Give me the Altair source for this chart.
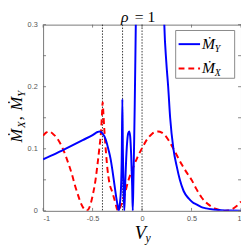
import altair as alt
import pandas as pd

# --- data ---
mx_x = [-1.0, -0.97, -0.94, -0.9, -0.85, -0.8, -0.75, -0.7, -0.68, -0.65, -0.62, -0.59, -0.564,
        -0.54, -0.52, -0.5, -0.47, -0.45, -0.43, -0.415, -0.405, -0.398, -0.39, -0.38, -0.365,
        -0.35, -0.33, -0.3, -0.27, -0.255, -0.244, -0.22, -0.2, -0.17, -0.14, -0.1, -0.05, 0.0,
        0.05, 0.1, 0.16, 0.2, 0.25, 0.3, 0.35, 0.4, 0.45, 0.5, 0.55, 0.6, 0.65, 0.7, 0.75, 0.8,
        0.83, 0.87, 0.9, 0.95, 1.0]
mx_y = [0.121, 0.126, 0.128, 0.124, 0.115, 0.1, 0.079, 0.054, 0.042, 0.027, 0.013, 0.004, 0.0,
        0.003, 0.011, 0.024, 0.05, 0.075, 0.103, 0.127, 0.155, 0.175, 0.155, 0.128, 0.095,
        0.068, 0.045, 0.03, 0.013, 0.004, 0.0, 0.006, 0.015, 0.03, 0.048, 0.066, 0.085, 0.101,
        0.115, 0.124, 0.128, 0.126, 0.118, 0.105, 0.09, 0.075, 0.062, 0.05, 0.035, 0.022, 0.013,
        0.007, 0.003, 0.001, 0.0, 0.0005, 0.002, 0.007, 0.015]

my_x1 = [-1.0, -0.9, -0.8, -0.7, -0.6, -0.5, -0.45, -0.43, -0.4, -0.367, -0.34, -0.317, -0.3,
         -0.278, -0.26, -0.245, -0.236, -0.225, -0.212, -0.205, -0.199, -0.194, -0.188, -0.179,
         -0.17, -0.16, -0.15, -0.14, -0.13, -0.12, -0.11, -0.1, -0.094, -0.087, -0.08, -0.074,
         -0.068, -0.06]
my_y1 = [0.083, 0.09, 0.098, 0.106, 0.114, 0.122, 0.127, 0.128, 0.125, 0.115, 0.099, 0.083, 0.066,
         0.041, 0.021, 0.007, 0.0, 0.01, 0.04, 0.09, 0.18, 0.1, 0.04, 0.0,
         0.045, 0.085, 0.112, 0.125, 0.128, 0.12, 0.09, 0.04, 0.0, 0.05, 0.11, 0.17,
         0.24, 0.34]
my_x2 = [0.22, 0.225, 0.245, 0.264, 0.284, 0.317, 0.35, 0.382, 0.42, 0.471, 0.51, 0.554, 0.6,
         0.65, 0.7, 0.8, 0.9, 1.0]
my_y2 = [0.33, 0.3, 0.24, 0.2, 0.15, 0.1, 0.072, 0.05, 0.032, 0.02, 0.014, 0.01, 0.006,
         0.004, 0.0025, 0.0012, 0.0006, 0.0003]

vlines = [-0.4, -0.197, 0.0]
x_ticks = [-1, -0.5, 0, 0.5, 1]
y_ticks = [0, 0.05, 0.1, 0.15, 0.2, 0.25, 0.3]

W, H = 203, 191
SERIF = "Liberation Serif, DejaVu Serif, serif"
GRAY = "#555555"

xs = alt.Scale(domain=[-1, 1], nice=False, zero=False)
ys = alt.Scale(domain=[0, 0.3], nice=False, zero=False)

lab = dict(labelFontSize=7.5, labelColor=GRAY, labelFont="Liberation Sans, Arial, sans-serif",
           ticks=False, domain=False, grid=False, title=None, labelExpr="'' + datum.value")

red_df = pd.DataFrame({"x": mx_x, "y": mx_y})
blue_df = pd.concat([
    pd.DataFrame({"x": my_x1, "y": my_y1, "seg": 1}),
    pd.DataFrame({"x": my_x2, "y": my_y2, "seg": 2}),
])

base_x = alt.X("x:Q", scale=xs, axis=alt.Axis(values=x_ticks, labelPadding=4, **lab))
base_y = alt.Y("y:Q", scale=ys, axis=alt.Axis(values=y_ticks, labelPadding=6, **lab))

vl = alt.Chart(pd.DataFrame({"x": vlines})).mark_rule(
    color="#333333", strokeWidth=1, strokeDash=[1.5, 1.5]
).encode(x=alt.X("x:Q", scale=xs))

red = alt.Chart(red_df).mark_line(
    color="#ff0000", strokeWidth=2, strokeDash=[6, 4], interpolate="monotone", clip=True
).encode(x=base_x, y=base_y)

blue = alt.Chart(blue_df).mark_line(
    color="#0000ff", strokeWidth=2, interpolate="monotone", clip=True
).encode(x=alt.X("x:Q", scale=xs), y=alt.Y("y:Q", scale=ys), detail="seg:N")

tick_col = "#666666"
ytdf = pd.DataFrame({"y": y_ticks})
xtdf = pd.DataFrame({"x": x_ticks})
tl = alt.Chart(ytdf).mark_rule(color=tick_col, strokeWidth=0.8).encode(
    y=alt.Y("y:Q", scale=ys), x=alt.value(0), x2=alt.value(3))
tr = alt.Chart(ytdf).mark_rule(color=tick_col, strokeWidth=0.8).encode(
    y=alt.Y("y:Q", scale=ys), x=alt.value(W - 3), x2=alt.value(W))
tb = alt.Chart(xtdf).mark_rule(color=tick_col, strokeWidth=0.8).encode(
    x=alt.X("x:Q", scale=xs), y=alt.value(H - 3), y2=alt.value(H))
tt = alt.Chart(xtdf).mark_rule(color=tick_col, strokeWidth=0.8).encode(
    x=alt.X("x:Q", scale=xs), y=alt.value(0), y2=alt.value(3))


def txt(t, x, y, size, italic=True, angle=0, align="left", color="black"):
    kw = dict(text=t, fontSize=size, font=SERIF, align=align, baseline="alphabetic",
              color=color, angle=angle)
    if italic:
        kw["fontStyle"] = "italic"
    return alt.Chart(pd.DataFrame({"a": [0]})).mark_text(**kw).encode(
        x=alt.value(x), y=alt.value(y))


texts = [
    # title
    txt("\u03c1", 80, -3, 16),
    txt("= 1", 94, -3, 16, italic=False),
    # x title
    txt("V", 94, 220, 19),
    txt("y", 105, 223, 12),
    # y title (rotated)
    txt("\u1e40", -22, 121, 17, angle=270),
    txt("X", -19, 106, 11, angle=270),
    txt(",", -22, 98, 17, italic=False, angle=270),
    txt("\u1e40", -22, 88, 17, angle=270),
    txt("Y", -19, 74, 11, angle=270),
]

# legend
leg_box = alt.Chart(pd.DataFrame({"a": [0]})).mark_rect(
    fill="white", stroke="#888888", strokeWidth=1
).encode(x=alt.value(136), x2=alt.value(196.5), y=alt.value(6), y2=alt.value(55))
leg_blue = alt.Chart(pd.DataFrame({"a": [0]})).mark_rule(color="#0000ff", strokeWidth=2).encode(
    x=alt.value(139), x2=alt.value(161), y=alt.value(20))
leg_red = alt.Chart(pd.DataFrame({"a": [0]})).mark_rule(
    color="#ff0000", strokeWidth=2, strokeDash=[6, 4]).encode(
    x=alt.value(139), x2=alt.value(161), y=alt.value(45))
leg_texts = [
    txt("\u1e40", 163, 25, 16),
    txt("Y", 176, 28, 10),
    txt("\u1e40", 163, 50, 16),
    txt("X", 176, 53, 10),
]

chart = alt.layer(
    vl, red, blue, tl, tr, tb, tt, leg_box, leg_blue, leg_red, *leg_texts, *texts
).properties(
    width=W, height=H,
    autosize=alt.AutoSizeParams(type="none"),
    padding={"left": 36, "top": 14, "right": 0, "bottom": 34},
).configure_view(stroke="#777777", strokeWidth=1)

chart.save("out.html", embed_options={"renderer": "svg", "actions": False})
